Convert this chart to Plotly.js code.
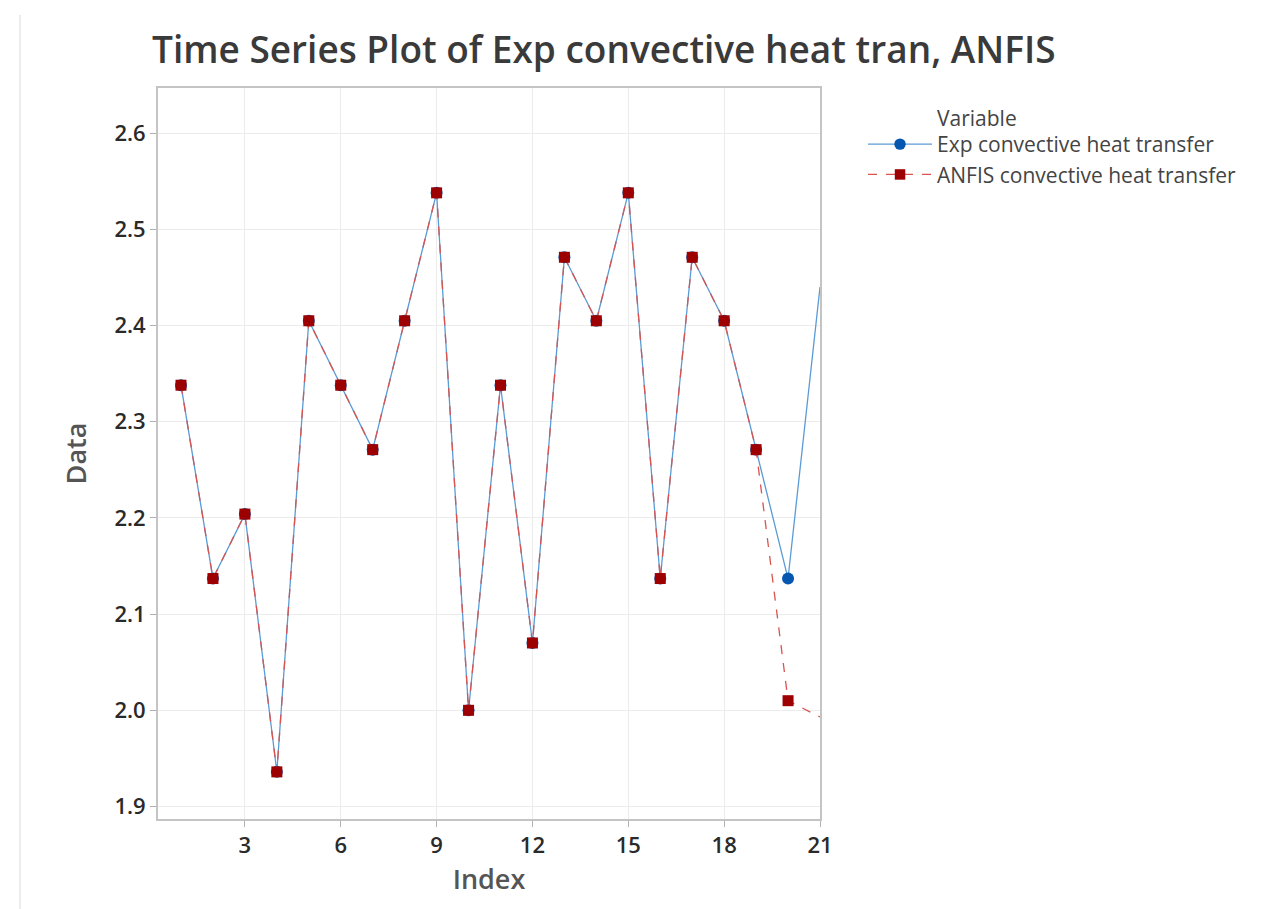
<!DOCTYPE html>
<html>
<head>
<meta charset="utf-8">
<script src="https://cdn.plot.ly/plotly-3.0.1.min.js"></script>
<style>html,body{margin:0;padding:0;background:#fff;}#chart{width:1271px;height:909px;}</style>
</head>
<body>
<div id="chart"></div>
<script>
const indexValues = [1,2,3,4,5,6,7,8,9,10,11,12,13,14,15,16,17,18,19,20,21];
const expValues = [2.338,2.137,2.204,1.936,2.405,2.338,2.271,2.405,2.538,2.000,2.338,2.070,2.471,2.405,2.538,2.137,2.471,2.405,2.271,2.137,2.440];
const anfisValues = [2.338,2.137,2.204,1.936,2.405,2.338,2.271,2.405,2.538,2.000,2.338,2.070,2.471,2.405,2.538,2.137,2.471,2.405,2.271,2.010,1.993];
const seriesNames = ["Exp convective heat transfer","ANFIS convective heat transfer"];
const xTicks = [3,6,9,12,15,18,21];
const yTicks = [1.9,2.0,2.1,2.2,2.3,2.4,2.5,2.6];
const yTickLabels = ["1.9","2.0","2.1","2.2","2.3","2.4","2.5","2.6"];

const FONT = "Open Sans, Noto Sans, sans-serif";
const hideLast = (n, s) => indexValues.map((_, i) => i === n - 1 ? 0 : s);

const traces = [
  {
    x: indexValues, y: expValues, name: seriesNames[0], type: "scatter", mode: "lines+markers",
    line: {color: "#5b9bd5", width: 1.3},
    marker: {symbol: "circle", color: "#0657b0", size: hideLast(indexValues.length, 12), opacity: 1, line: {width: 0}}
  },
  {
    x: indexValues, y: anfisValues, name: seriesNames[1], type: "scatter", mode: "lines+markers",
    line: {color: "#d9534f", width: 1.3, dash: "dash"},
    marker: {symbol: "square", color: "#9c0000", size: hideLast(indexValues.length, 11), opacity: 1, line: {width: 0}}
  }
];

const layout = {
  width: 1271, height: 909,
  paper_bgcolor: "#ffffff", plot_bgcolor: "#ffffff",
  margin: {l: 158, r: 451, t: 88, b: 90, autoexpand: false},
  font: {family: FONT, color: "#333"},
  title: {
    text: "Time Series Plot of Exp convective heat tran, ANFIS",
    font: {family: FONT, size: 37, color: "#3a3a3a", weight: 600},
    x: 152/1271, xanchor: "left", xref: "container",
    y: 1 - 50/909, yanchor: "middle", yref: "container"
  },
  xaxis: {
    range: [0.28, 21], tickvals: xTicks, ticktext: xTicks.map(String),
    showgrid: true, gridcolor: "#ececec", gridwidth: 1,
    showline: true, linecolor: "#c4c4c4", linewidth: 2, mirror: true,
    ticks: "outside", ticklen: 6, tickcolor: "#b0b0b0",
    tickfont: {family: FONT, size: 22, color: "#2a2a2a", weight: 600},
    zeroline: false,
    title: {text: "Index", font: {family: FONT, size: 27, color: "#555", weight: 600}, standoff: 12}
  },
  yaxis: {
    range: [1.887, 2.647], tickvals: yTicks, ticktext: yTickLabels,
    showgrid: true, gridcolor: "#ececec", gridwidth: 1,
    showline: true, linecolor: "#c4c4c4", linewidth: 2, mirror: true,
    ticks: "outside", ticklen: 6, tickcolor: "#b0b0b0",
    tickfont: {family: FONT, size: 22, color: "#2a2a2a", weight: 600},
    zeroline: false,
    title: {text: "Data", font: {family: FONT, size: 27, color: "#555", weight: 600}, standoff: 20}
  },
  showlegend: true,
  legend: {
    x: 1.065, xanchor: "left", y: (819-124)/731, yanchor: "top",
    font: {family: FONT, size: 21, color: "#444"},
    bgcolor: "rgba(0,0,0,0)", tracegroupgap: 0, itemwidth: 64
  },
  annotations: [{
    text: "Variable", xref: "paper", yref: "paper", x: (935-158)/662, y: (819-118)/731,
    xanchor: "left", yanchor: "middle", showarrow: false,
    font: {family: FONT, size: 21, color: "#444"}
  }],
  shapes: [{
    type: "line", xref: "paper", yref: "paper", x0: (20-158)/662, x1: (20-158)/662, y0: -0.2, y1: 1.1,
    line: {color: "#ececec", width: 2}
  }]
};

Plotly.newPlot("chart", traces, layout, {displayModeBar: false, staticPlot: true});
</script>
</body>
</html>
